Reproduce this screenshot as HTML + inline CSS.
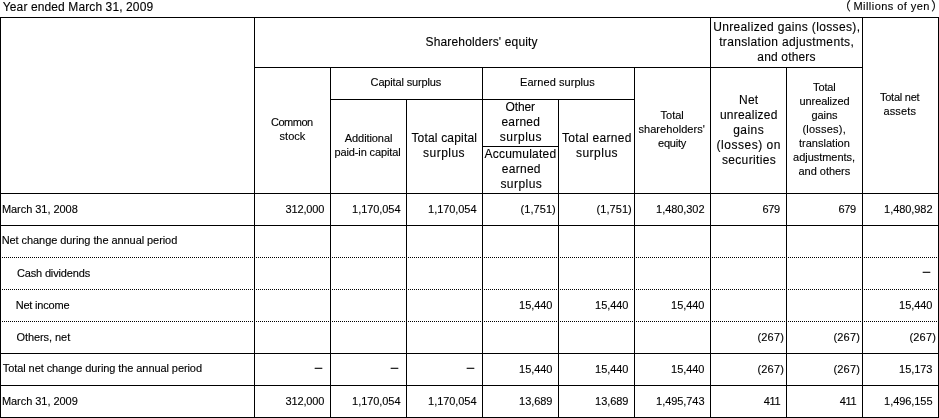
<!DOCTYPE html>
<html lang="en"><head><meta charset="utf-8"><title>Statement of changes in net assets</title>
<style>
html,body{margin:0;padding:0;background:#fff}
body{width:939px;height:418px;position:relative;overflow:hidden;font-family:"Liberation Sans","Noto Sans CJK JP",sans-serif;color:#000}
.l{position:absolute;background:#000}
.d{position:absolute;height:1px;background:repeating-linear-gradient(90deg,#000 0,#000 1px,transparent 1px,transparent 2px)}
.t{position:absolute;white-space:nowrap;-webkit-text-stroke:0.12px #000}
.b{font-size:12px;line-height:15px}
.s{font-size:11px;line-height:14px}
.j{font-size:12px;line-height:15px;font-family:"Noto Sans CJK JP",sans-serif}
.jd{font-size:10px;line-height:15px;font-family:"Noto Sans CJK JP",sans-serif;-webkit-text-stroke:0.3px #000}
</style></head><body>
<div class="l" style="left:0px;top:17px;width:939px;height:1px"></div>
<div class="l" style="left:0px;top:417px;width:939px;height:1px"></div>
<div class="l" style="left:0px;top:17px;width:1px;height:401px"></div>
<div class="l" style="left:938px;top:17px;width:1px;height:401px"></div>
<div class="l" style="left:254px;top:17px;width:1px;height:401px"></div>
<div class="l" style="left:254px;top:67px;width:608px;height:1px"></div>
<div class="l" style="left:330px;top:67px;width:1px;height:351px"></div>
<div class="l" style="left:330px;top:99px;width:304px;height:1px"></div>
<div class="l" style="left:406px;top:99px;width:1px;height:319px"></div>
<div class="l" style="left:482px;top:67px;width:1px;height:351px"></div>
<div class="l" style="left:558px;top:99px;width:1px;height:319px"></div>
<div class="l" style="left:634px;top:67px;width:1px;height:351px"></div>
<div class="l" style="left:710px;top:17px;width:1px;height:401px"></div>
<div class="l" style="left:786px;top:67px;width:1px;height:351px"></div>
<div class="l" style="left:862px;top:17px;width:1px;height:401px"></div>
<div class="l" style="left:482px;top:146px;width:76px;height:1px"></div>
<div class="l" style="left:0px;top:193px;width:939px;height:1px"></div>
<div class="l" style="left:0px;top:225px;width:939px;height:1px"></div>
<div class="d" style="left:0px;top:257px;width:939px"></div>
<div class="d" style="left:0px;top:289px;width:939px"></div>
<div class="d" style="left:0px;top:321px;width:939px"></div>
<div class="l" style="left:0px;top:353px;width:939px;height:1px"></div>
<div class="l" style="left:0px;top:385px;width:939px;height:1px"></div>
<span class="t b" style="left:2.8px;top:0px;letter-spacing:0.11px">Year ended March 31, 2009</span>
<span class="t j" style="left:838.8px;top:-2px">（</span>
<span class="t s" style="left:853.5px;top:-1px;letter-spacing:0.44px">Millions of yen</span>
<span class="t j" style="left:931.3px;top:-2px">）</span>
<span class="t b" style="left:425.5px;top:35px;letter-spacing:0.16px">Shareholders&#x27; equity</span>
<span class="t b" style="left:713.2px;top:20px;letter-spacing:0.35px">Unrealized gains (losses),</span>
<span class="t b" style="left:719.2px;top:35px;letter-spacing:0.34px">translation adjustments,</span>
<span class="t b" style="left:757.3px;top:50px;letter-spacing:0.17px">and others</span>
<span class="t s" style="left:271.0px;top:115px;letter-spacing:-0.49px">Common</span>
<span class="t s" style="left:279.6px;top:129px;letter-spacing:0.02px">stock</span>
<span class="t s" style="left:370.6px;top:75px;letter-spacing:-0.15px">Capital surplus</span>
<span class="t s" style="left:344.8px;top:131px;letter-spacing:-0.08px">Additional</span>
<span class="t s" style="left:334.5px;top:145px;letter-spacing:-0.12px">paid-in capital</span>
<span class="t b" style="left:411.4px;top:131px;letter-spacing:0.18px">Total capital</span>
<span class="t b" style="left:423.1px;top:146px;letter-spacing:0.46px">surplus</span>
<span class="t s" style="left:520.0px;top:75px;letter-spacing:0.06px">Earned surplus</span>
<span class="t b" style="left:505.6px;top:100px;letter-spacing:-0.18px">Other</span>
<span class="t b" style="left:501.5px;top:115px;letter-spacing:0.20px">earned</span>
<span class="t b" style="left:499.8px;top:130px;letter-spacing:0.50px">surplus</span>
<span class="t b" style="left:484.6px;top:147px;letter-spacing:0.21px">Accumulated</span>
<span class="t b" style="left:501.8px;top:162px;letter-spacing:0.27px">earned</span>
<span class="t b" style="left:500.4px;top:177px;letter-spacing:0.46px">surplus</span>
<span class="t b" style="left:562.0px;top:131px;letter-spacing:0.30px">Total earned</span>
<span class="t b" style="left:575.9px;top:146px;letter-spacing:0.50px">surplus</span>
<span class="t s" style="left:660.6px;top:108px;letter-spacing:-0.02px">Total</span>
<span class="t s" style="left:638.4px;top:122px;letter-spacing:0.07px">shareholders&#x27;</span>
<span class="t s" style="left:658.0px;top:136px;letter-spacing:-0.22px">equity</span>
<span class="t b" style="left:739.0px;top:93px;letter-spacing:0.23px">Net</span>
<span class="t b" style="left:719.9px;top:108px;letter-spacing:0.24px">unrealized</span>
<span class="t b" style="left:733.2px;top:123px;letter-spacing:0.46px">gains</span>
<span class="t b" style="left:716.5px;top:138px;letter-spacing:0.52px">(losses) on</span>
<span class="t b" style="left:721.9px;top:153px;letter-spacing:0.35px">securities</span>
<span class="t s" style="left:813.1px;top:80px;letter-spacing:-0.14px">Total</span>
<span class="t s" style="left:799.5px;top:94px;letter-spacing:-0.08px">unrealized</span>
<span class="t s" style="left:811.5px;top:108px;letter-spacing:-0.09px">gains</span>
<span class="t s" style="left:802.5px;top:122px;letter-spacing:0.21px">(losses),</span>
<span class="t s" style="left:799.0px;top:136px;letter-spacing:0.01px">translation</span>
<span class="t s" style="left:793.1px;top:150px;letter-spacing:-0.04px">adjustments,</span>
<span class="t s" style="left:798.5px;top:164px;letter-spacing:-0.03px">and others</span>
<span class="t s" style="left:880.0px;top:90px;letter-spacing:-0.25px">Total net</span>
<span class="t s" style="left:883.4px;top:104px;letter-spacing:0.18px">assets</span>
<span class="t s" style="left:1.9px;top:202px;letter-spacing:-0.04px">March 31, 2008</span>
<span class="t s" style="left:1.7px;top:233px;letter-spacing:-0.07px">Net change during the annual period</span>
<span class="t s" style="left:16.9px;top:266px;letter-spacing:-0.15px">Cash dividends</span>
<span class="t s" style="left:15.7px;top:298px;letter-spacing:-0.19px">Net income</span>
<span class="t s" style="left:16.4px;top:330px;letter-spacing:-0.06px">Others, net</span>
<span class="t s" style="left:2.8px;top:361px;letter-spacing:-0.08px">Total net change during the annual period</span>
<span class="t s" style="left:1.9px;top:394px;letter-spacing:-0.04px">March 31, 2009</span>
<span class="t s" style="left:285.4px;top:202px;letter-spacing:-0.12px">312,000</span>
<span class="t s" style="left:352.1px;top:202px;letter-spacing:-0.06px">1,170,054</span>
<span class="t s" style="left:428.1px;top:202px;letter-spacing:-0.06px">1,170,054</span>
<span class="t s" style="left:520.6px;top:202px;letter-spacing:0.05px">(1,751)</span>
<span class="t s" style="left:596.6px;top:202px;letter-spacing:0.05px">(1,751)</span>
<span class="t s" style="left:656.1px;top:202px;letter-spacing:-0.06px">1,480,302</span>
<span class="t s" style="left:762.4px;top:202px;letter-spacing:-0.27px">679</span>
<span class="t s" style="left:838.4px;top:202px;letter-spacing:-0.27px">679</span>
<span class="t s" style="left:884.1px;top:202px;letter-spacing:-0.06px">1,480,982</span>
<span class="t jd" style="left:921.5px;top:264px">－</span>
<span class="t s" style="left:519.1px;top:298px;letter-spacing:-0.05px">15,440</span>
<span class="t s" style="left:595.1px;top:298px;letter-spacing:-0.05px">15,440</span>
<span class="t s" style="left:671.1px;top:298px;letter-spacing:-0.05px">15,440</span>
<span class="t s" style="left:899.1px;top:298px;letter-spacing:-0.05px">15,440</span>
<span class="t s" style="left:757.5px;top:330px;letter-spacing:0.16px">(267)</span>
<span class="t s" style="left:833.5px;top:330px;letter-spacing:0.16px">(267)</span>
<span class="t s" style="left:909.5px;top:330px;letter-spacing:0.16px">(267)</span>
<span class="t jd" style="left:313.5px;top:360px">－</span>
<span class="t jd" style="left:389.5px;top:360px">－</span>
<span class="t jd" style="left:465.5px;top:360px">－</span>
<span class="t s" style="left:519.1px;top:362px;letter-spacing:-0.05px">15,440</span>
<span class="t s" style="left:595.1px;top:362px;letter-spacing:-0.05px">15,440</span>
<span class="t s" style="left:671.1px;top:362px;letter-spacing:-0.05px">15,440</span>
<span class="t s" style="left:757.5px;top:362px;letter-spacing:0.16px">(267)</span>
<span class="t s" style="left:833.5px;top:362px;letter-spacing:0.16px">(267)</span>
<span class="t s" style="left:899.1px;top:362px;letter-spacing:-0.05px">15,173</span>
<span class="t s" style="left:285.4px;top:394px;letter-spacing:-0.12px">312,000</span>
<span class="t s" style="left:352.1px;top:394px;letter-spacing:-0.06px">1,170,054</span>
<span class="t s" style="left:428.1px;top:394px;letter-spacing:-0.06px">1,170,054</span>
<span class="t s" style="left:519.1px;top:394px;letter-spacing:-0.05px">13,689</span>
<span class="t s" style="left:595.1px;top:394px;letter-spacing:-0.05px">13,689</span>
<span class="t s" style="left:656.1px;top:394px;letter-spacing:-0.06px">1,495,743</span>
<span class="t s" style="left:763.7px;top:394px;letter-spacing:-0.27px">411</span>
<span class="t s" style="left:839.7px;top:394px;letter-spacing:-0.27px">411</span>
<span class="t s" style="left:884.1px;top:394px;letter-spacing:-0.06px">1,496,155</span>
</body></html>
